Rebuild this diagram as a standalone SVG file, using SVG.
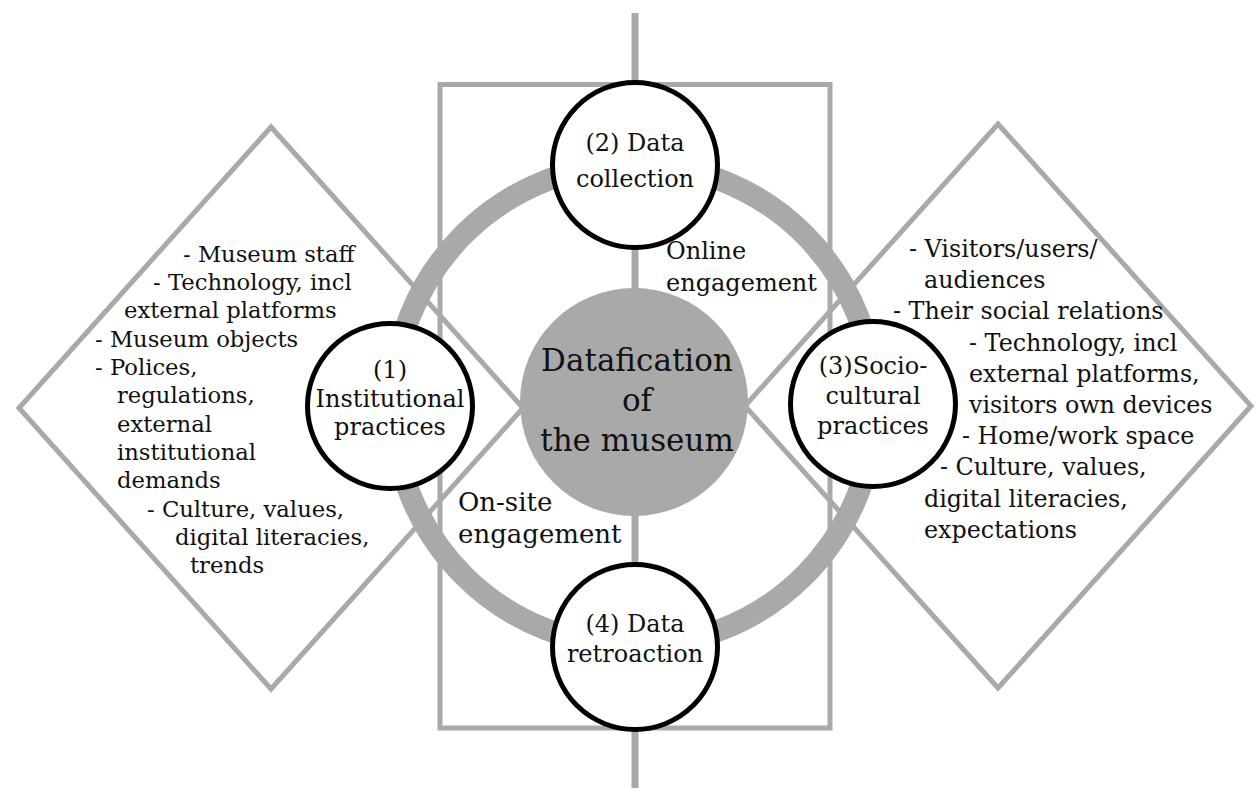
<svg xmlns="http://www.w3.org/2000/svg" width="1259" height="793" viewBox="0 0 1259 793">
  <style>
    .frame { fill: none; stroke: #a9a9a9; stroke-width: 5; }
    .ring { fill: none; stroke: #a9a9a9; stroke-width: 22; }
    .axis { stroke: #a9a9a9; stroke-width: 7; }
    .node { fill: #ffffff; stroke: #000000; stroke-width: 5; }
    .core { fill: #a9a9a9; }
    text { font-family: "DejaVu Serif", "Liberation Serif", serif; fill: #111111; }
    .list-l { font-size: 22.7px; }
    .list-r { font-size: 23.8px; }
    .label { font-size: 24px; text-anchor: middle; }
    .eng { font-size: 24px; }
    .eng-big { font-size: 26px; }
    .core-text { font-size: 31px; text-anchor: middle; }
  </style>

  <rect width="1259" height="793" fill="#ffffff"/>

  <!-- background frames: two diamonds and the central rectangle -->
  <g id="frames">
    <polygon id="diamond-institutional" class="frame" points="271,127 523,408 271,689 19,408"/>
    <polygon id="diamond-sociocultural" class="frame" points="998,124 1251,406 998,688 745,406"/>
    <rect id="engagement-frame" class="frame" x="440" y="84.5" width="390" height="643.5"/>
  </g>

  <!-- connectors: vertical axis and the cycle ring -->
  <g id="connectors">
    <line class="axis" x1="635" y1="13" x2="635" y2="788"/>
    <circle class="ring" cx="634" cy="405" r="241"/>
  </g>

  <!-- centre -->
  <g id="core">
    <circle class="core" cx="634" cy="402" r="114"/>
    <text class="core-text" x="637" y="371">Datafication</text>
    <text class="core-text" x="637" y="411">of</text>
    <text class="core-text" x="637" y="451">the museum</text>
  </g>

  <g id="node-institutional">
    <circle class="node" cx="390" cy="406" r="82.5"/>
    <text class="label" x="390" y="378">(1)</text>
    <text class="label" x="390" y="407">Institutional</text>
    <text class="label" x="390" y="435">practices</text>
  </g>

  <g id="node-collection">
    <circle class="node" cx="635" cy="165" r="82.5"/>
    <text class="label" x="635" y="151">(2) Data</text>
    <text class="label" x="635" y="187">collection</text>
  </g>

  <g id="node-sociocultural">
    <circle class="node" cx="873" cy="404" r="82.5"/>
    <text class="label" x="873" y="374">(3)Socio-</text>
    <text class="label" x="873" y="404">cultural</text>
    <text class="label" x="873" y="434">practices</text>
  </g>

  <g id="node-retroaction">
    <circle class="node" cx="635" cy="647" r="82.5"/>
    <text class="label" x="635" y="632">(4) Data</text>
    <text class="label" x="635" y="662">retroaction</text>
  </g>

  <!-- engagement labels -->
  <g id="label-online">
    <text class="eng" x="666" y="259">Online</text>
    <text class="eng" x="666" y="291">engagement</text>
  </g>
  <g id="label-onsite">
    <text class="eng-big" x="458" y="511">On-site</text>
    <text class="eng-big" x="458" y="543">engagement</text>
  </g>

  <!-- list inside the institutional diamond -->
  <g id="list-institutional" class="list-l">
    <text x="183" y="262">- Museum staff</text>
    <text x="153" y="290">- Technology, incl</text>
    <text x="124" y="318">external platforms</text>
    <text x="95" y="347">- Museum objects</text>
    <text x="95" y="375">- Polices,</text>
    <text x="117" y="403">regulations,</text>
    <text x="117" y="432">external</text>
    <text x="117" y="460">institutional</text>
    <text x="117" y="488">demands</text>
    <text x="147" y="517">- Culture, values,</text>
    <text x="175" y="545">digital literacies,</text>
    <text x="190" y="573">trends</text>
  </g>

  <!-- list inside the socio-cultural diamond -->
  <g id="list-sociocultural" class="list-r">
    <text x="909" y="257">- Visitors/users/</text>
    <text x="924" y="288">audiences</text>
    <text x="893" y="319">- Their social relations</text>
    <text x="969" y="351">- Technology, incl</text>
    <text x="969" y="382">external platforms,</text>
    <text x="969" y="413">visitors own devices</text>
    <text x="962" y="444">- Home/work space</text>
    <text x="940" y="475">- Culture, values,</text>
    <text x="924" y="507">digital literacies,</text>
    <text x="924" y="538">expectations</text>
  </g>
</svg>
